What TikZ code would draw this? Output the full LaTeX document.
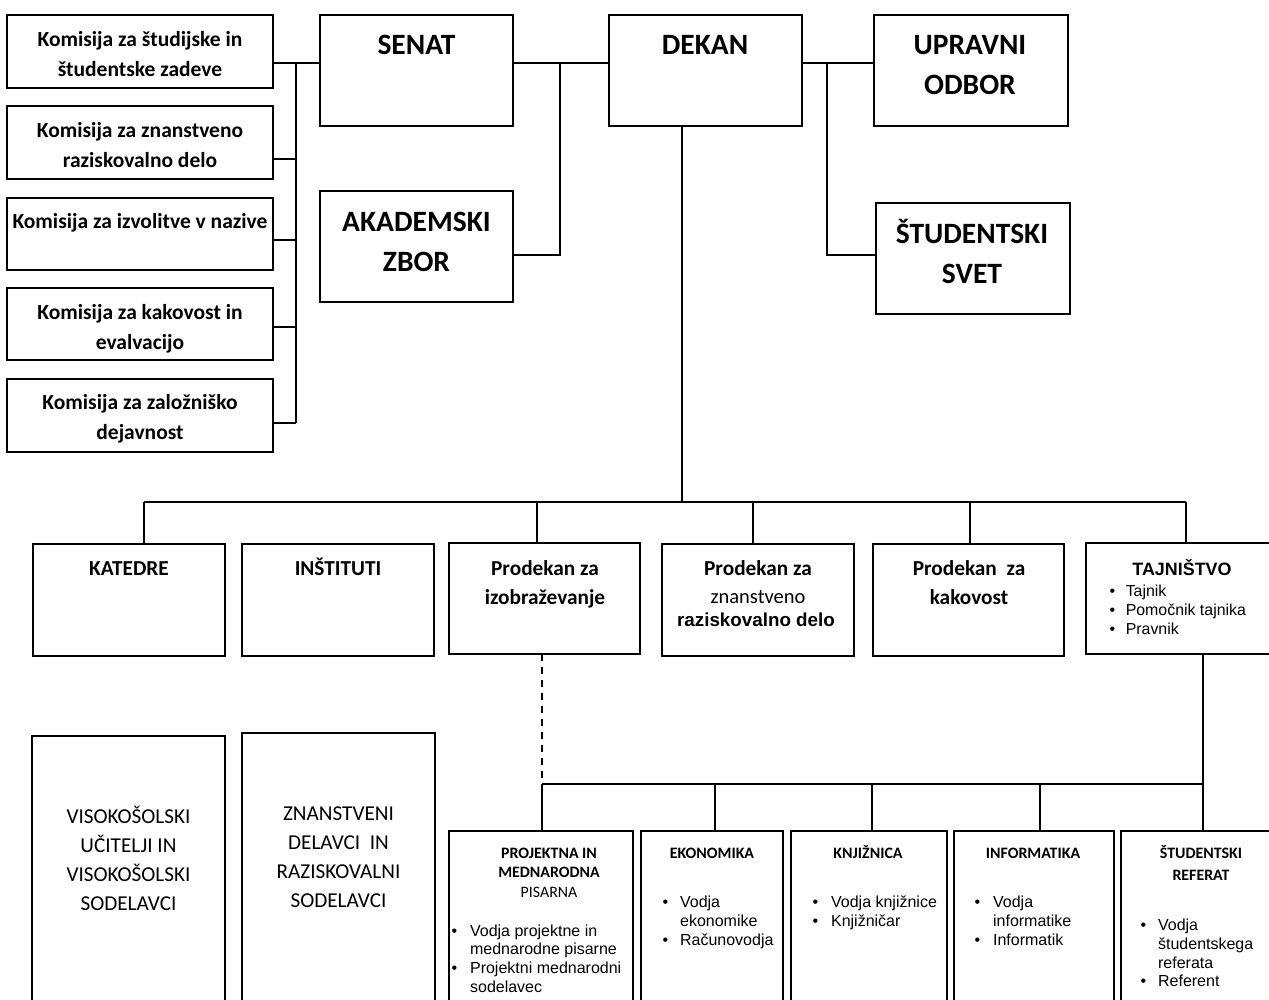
\documentclass[tikz,border=0pt]{standalone}
\usepackage{fontspec}
\setmainfont{Carlito}
\newfontfamily\arialf{Liberation Sans}
\usetikzlibrary{calc}
\newcommand\ctab[1]{\begin{tabular}[t]{@{}c@{}}#1\end{tabular}}
\newcommand\blst[2]{\begin{tabular}[t]{@{}l@{\hspace{#1}}l@{}}#2\end{tabular}}
\newcommand\fsz[2]{\fontsize{#1}{#2}\selectfont}
\begin{document}
\begin{tikzpicture}[x=1pt,y=-1pt,
  box/.style={draw, line width=1.8pt, anchor=north west, inner sep=0pt, outer sep=0pt},
  conn/.style={line width=1.6pt},
  lbl/.style={anchor=base, inner sep=0pt, align=center},
  kom/.style={lbl, font=\bfseries\fsz{21.5}{30}},
  big/.style={lbl, font=\bfseries\fsz{29.5}{40}},
  mid/.style={lbl, font=\bfseries\fsz{21.3}{29}},
  head/.style={lbl, font=\bfseries\fsz{15.9}{19.5}},
  bul/.style={anchor=base west, inner sep=0pt, font=\arialf\fsz{16}{18.8}},
  staff/.style={lbl, font=\fsz{21.2}{29}}]
\useasboundingbox (0,0) rectangle (1269,999);
\fill[white] (0,0) rectangle (1269,999);
\clip (0,0) rectangle (1269,999);

% committees
\node[box, minimum width=266pt, minimum height=73pt] (c1) at (7,15) {};
\node[box, minimum width=266pt, minimum height=73pt] (c2) at (7,106) {};
\node[box, minimum width=266pt, minimum height=72pt] (c3) at (7,198) {};
\node[box, minimum width=266pt, minimum height=72pt] (c4) at (7,288) {};
\node[box, minimum width=266pt, minimum height=73pt] (c5) at (7,379) {};
\node[kom] (t1) at (140,46) {\ctab{Komisija za študijske in\\študentske zadeve}};
\node[kom] (t2) at (140,137) {\ctab{Komisija za znanstveno\\raziskovalno delo}};
\node[kom] (t3) at (140,228) {Komisija za izvolitve v nazive};
\node[kom] (t4) at (140,319) {\ctab{Komisija za kakovost in\\evalvacijo}};
\node[kom] (t5) at (140,409) {\ctab{Komisija za založniško\\dejavnost}};

% top bodies
\node[box, minimum width=193pt, minimum height=111pt] (senat) at (320,15) {};
\node[box, minimum width=193pt, minimum height=111pt] (akad) at (320,191) {};
\node[box, minimum width=193pt, minimum height=111pt] (dekan) at (609,15) {};
\node[box, minimum width=194pt, minimum height=111pt] (upravni) at (874,15) {};
\node[box, minimum width=194pt, minimum height=111pt] (ssvet) at (876,203) {};
\node[big] (tsenat) at (416.5,54) {SENAT};
\node[big] (takad) at (416.5,231) {\ctab{AKADEMSKI\\ZBOR}};
\node[big] (tdekan) at (705,54) {DEKAN};
\node[big] (tupr) at (970,54) {\ctab{UPRAVNI\\ODBOR}};
\node[big] (tssv) at (972,243) {\ctab{ŠTUDENTSKI\\SVET}};

% middle row
\node[box, minimum width=192pt, minimum height=112pt] (katedre) at (33,544) {};
\node[box, minimum width=192pt, minimum height=112pt] (inst) at (242,544) {};
\node[box, minimum width=191pt, minimum height=111pt] (pizo) at (449,543) {};
\node[box, minimum width=192pt, minimum height=112pt] (pznan) at (662,544) {};
\node[box, minimum width=191pt, minimum height=112pt] (pkak) at (873,544) {};
\node[box, minimum width=220pt, minimum height=111pt] (tajn) at (1086,543) {};
\node[mid] (tkat) at (129,575) {KATEDRE};
\node[mid] (tinst) at (338,575) {INŠTITUTI};
\node[mid] (tpizo) at (545,575) {\ctab{Prodekan za\\izobraževanje}};
\node[mid] (tpzn1) at (758,575) {Prodekan za};
\node[lbl, font=\fsz{20.5}{24}] (tpzn2) at (758,603) {znanstveno};
\node[lbl, font=\arialf\bfseries\fsz{18.8}{22}] (tpzn3) at (756,626) {raziskovalno delo};
\node[mid] (tpkak) at (969,575) {\ctab{Prodekan\ \ za\\kakovost}};
\node[lbl, font=\arialf\bfseries\fsz{17.9}{20}] (ttajn) at (1182,575) {TAJNIŠTVO};
\node[bul, font=\arialf\fsz{15.9}{19}] (btajn) at (1109.5,596) {\blst{10.5pt}{\textbullet & Tajnik\\ \textbullet & Pomočnik tajnika\\ \textbullet & Pravnik}};

% staff
\node[box, minimum width=193pt, minimum height=300pt] (visok) at (32,736) {};
\node[box, minimum width=193pt, minimum height=300pt] (znan) at (242,733) {};
\node[staff] (tvis) at (128.5,823.5) {\ctab{VISOKOŠOLSKI\\UČITELJI IN\\VISOKOŠOLSKI\\SODELAVCI}};
\node[staff] (tznan) at (338.5,820.5) {\ctab{ZNANSTVENI\\DELAVCI\ \ IN\\RAZISKOVALNI\\SODELAVCI}};

% services
\node[box, minimum width=184pt, minimum height=250pt] (proj) at (449,831) {};
\node[box, minimum width=142pt, minimum height=250pt] (ekon) at (641,831) {};
\node[box, minimum width=156pt, minimum height=250pt] (knjiz) at (791,831) {};
\node[box, minimum width=160pt, minimum height=250pt] (inform) at (954,831) {};
\node[box, minimum width=200pt, minimum height=250pt] (sref) at (1121,831) {};
\node[head] (tproj) at (549,858) {\ctab{PROJEKTNA IN\\MEDNARODNA\\\mdseries PISARNA}};
\node[bul] (bproj) at (451.3,936) {\blst{13pt}{\textbullet & Vodja projektne in\\ & mednarodne pisarne\\ \textbullet & Projektni mednarodni\\ & sodelavec}};
\node[head] (tekon) at (712,858) {EKONOMIKA};
\node[bul] (bekon) at (662.3,907.5) {\blst{12pt}{\textbullet & Vodja\\ & ekonomike\\ \textbullet & Računovodja}};
\node[head] (tknj) at (868,858) {KNJIŽNICA};
\node[bul] (bknj) at (812.3,907.5) {\blst{13pt}{\textbullet & Vodja knjižnice\\ \textbullet & Knjižničar}};
\node[head] (tinf) at (1033,858) {INFORMATIKA};
\node[bul] (binf) at (974.3,907.5) {\blst{13pt}{\textbullet & Vodja\\ & informatike\\ \textbullet & Informatik}};
\node[head, font=\bfseries\fsz{15.9}{22}] (tsref) at (1201,858) {\ctab{ŠTUDENTSKI\\REFERAT}};
\node[bul] (bsref) at (1140.3,930.5) {\blst{12pt}{\textbullet & Vodja\\ & študentskega\\ & referata\\ \textbullet & Referent}};

% connectors: committees -> senat
\draw[conn] (c1.east |- 0,63) -- (senat.west |- 0,63);
\draw[conn] (296,63) -- (296,423);
\draw[conn] (c2.east |- 0,159) -- (296,159);
\draw[conn] (c3.east |- 0,240) -- (296,240);
\draw[conn] (c4.east |- 0,327) -- (296,327);
\draw[conn] (c5.east |- 0,423) -- (296,423);
% senat - dekan - akademski zbor
\draw[conn] (senat.east |- 0,63) -- (dekan.west |- 0,63);
\draw[conn] (560,63) -- (560,255) -- (akad.east |- 0,255);
% dekan - upravni odbor - studentski svet
\draw[conn] (dekan.east |- 0,63) -- (upravni.west |- 0,63);
\draw[conn] (827,63) -- (827,255) -- (ssvet.west |- 0,255);
% dekan down
\draw[conn] (dekan.south -| 682,0) -- (682,502);
\draw[conn] (144,502) -- (1186,502);
\draw[conn] (144,502) -- (katedre.north -| 144,0);
\draw[conn] (537,502) -- (pizo.north -| 537,0);
\draw[conn] (753,502) -- (pznan.north -| 753,0);
\draw[conn] (970,502) -- (pkak.north -| 970,0);
\draw[conn] (1186,502) -- (tajn.north -| 1186,0);
% lower
\draw[conn, dash pattern=on 7pt off 6pt] (pizo.south -| 542,0) -- (542,784);
\draw[conn] (542,784) -- (1203,784);
\draw[conn] (tajn.south -| 1203,0) -- (sref.north -| 1203,0);
\draw[conn] (542,784) -- (proj.north -| 542,0);
\draw[conn] (715,784) -- (ekon.north -| 715,0);
\draw[conn] (872,784) -- (knjiz.north -| 872,0);
\draw[conn] (1040,784) -- (inform.north -| 1040,0);
\end{tikzpicture}
\end{document}
